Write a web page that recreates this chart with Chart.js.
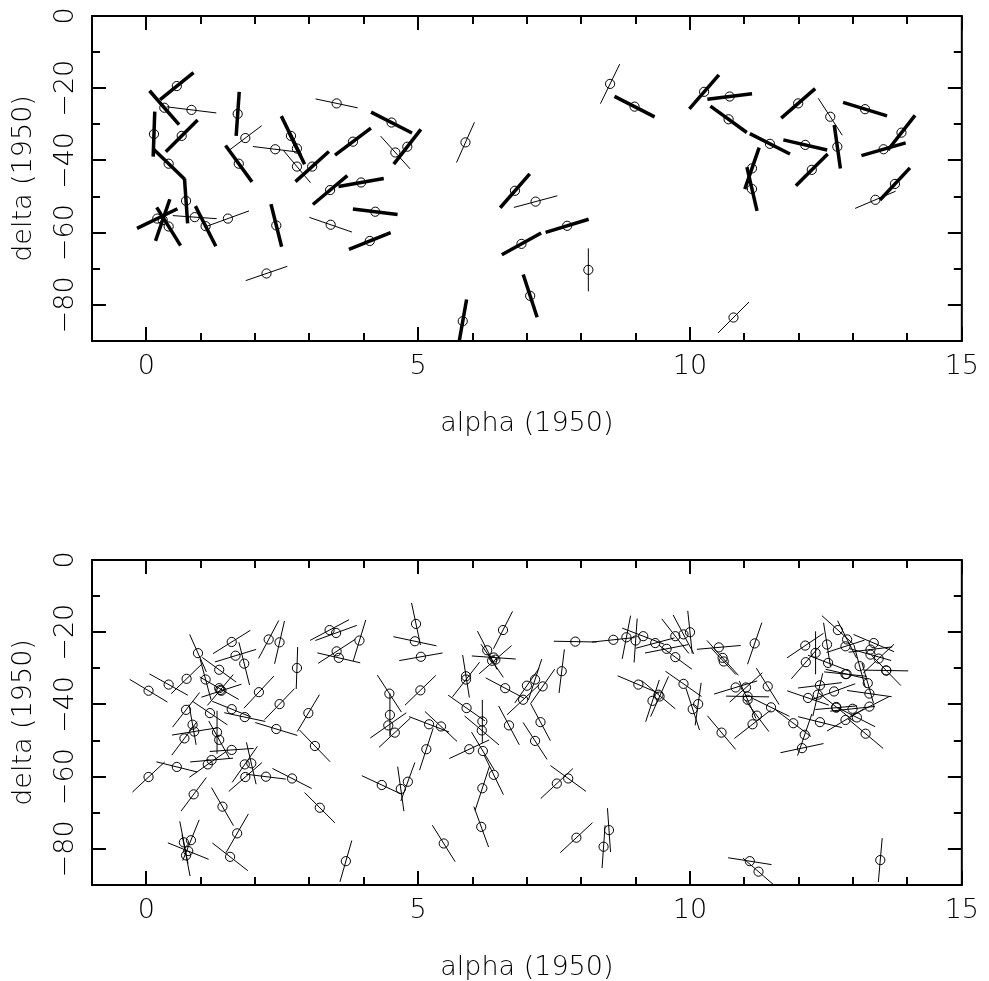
<!DOCTYPE html>
<html>
<head>
<meta charset="utf-8">
<title>alpha / delta polarisation vectors</title>
<script src="https://cdn.jsdelivr.net/npm/chart.js@4.4.1/dist/chart.umd.min.js"></script>
<style>
  html, body { margin: 0; padding: 0; background: #fff; overflow: hidden; }
  canvas { position: absolute; left: 0; }
  #topChart { top: 0; }
  #botChart { top: 544px; }
</style>
</head>
<body>
<canvas id="topChart" width="989" height="544"></canvas>
<canvas id="botChart" width="989" height="544"></canvas>
<script>
// ---- data ----
// angle: degrees from "up", + leans right; pol: vector length (1 unit = VEC_SCALE px)

// top panel
const topAlpha = [0.56,0.33,0.83,1.68,0.14,0.65,1.82,2.37,2.66,2.77,
  2.77,3.05,1.70,0.41,0.73,3.50,3.38,3.95,3.39,2.21,
  2.39,1.50,1.09,0.89,0.20,0.41,0.30,4.51,3.80,4.80,
  4.58,4.21,4.11,5.87,5.82,8.53,8.98,6.78,7.16,6.90,
  7.74,8.13,7.06,10.26,10.73,10.71,11.47,11.99,12.58,13.22,
  12.12,12.71,13.89,13.56,12.24,11.14,11.14,13.77,13.41,10.80];
const topDelta = [-19.4,-25.4,-26.0,-27.1,-32.7,-33.2,-33.8,-36.9,-33.2,-36.7,
  -41.7,-41.7,-40.9,-40.9,-51.2,-24.2,-48.2,-46.1,-57.8,-71.3,
  -58.0,-56.1,-58.2,-55.7,-56.1,-58.3,-56.5,-29.5,-34.8,-36.2,
  -37.8,-54.2,-62.3,-35.0,-84.5,-18.8,-25.1,-48.4,-51.4,-63.1,
  -58.1,-70.3,-77.5,-21.0,-22.3,-28.6,-35.4,-24.2,-27.9,-25.8,
  -35.7,-36.2,-32.3,-36.9,-42.6,-42.2,-47.9,-46.5,-50.9,-83.5];
const topAngle = [51,-41,-83,4,2,45,53,-83,-26,-26,
  -40,48,-36,-46,-4,-78,50,80,-71,71,
  -14,70,-27,-86,64,-32,19,-63,53,38,
  -42,-83,68,24,10,26,-63,41,75,61,
  73,0,-18,41,83,-54,-63,49,-33,-73,
  -77,-8,38,74,45,19,-13,43,67,45];
const topPol = [4.3,4.5,5.0,4.4,4.5,4.5,4.1,4.5,4.4,3.5,
  4.2,4.5,4.5,4.4,4.5,4.3,4.5,4.6,4.5,4.4,
  4.4,4.5,4.5,4.4,4.5,4.5,4.4,4.6,4.5,4.4,
  4.4,4.5,4.5,4.4,4.4,4.4,4.5,4.5,4.5,4.5,
  4.5,4.3,4.5,4.5,4.5,4.5,4.5,4.5,4.4,4.6,
  4.5,4.4,4.4,4.6,4.5,4.4,4.5,4.4,4.4,4.4];
// 1 = bold vector, 0 = thin vector
const topBold = [1,1,0,1,1,1,0,0,1,1,
  0,1,1,1,1,0,1,1,0,0,
  1,0,1,0,1,1,1,1,1,1,
  0,1,1,0,1,0,1,1,0,1,
  1,0,1,1,1,1,1,1,0,1,
  1,1,1,1,1,1,1,1,0,0];

// bottom panel
const botAlpha = [0.04,0.41,0.74,0.95,1.57,1.64,1.80,2.25,2.45,2.77,
  2.45,2.07,1.34,1.09,1.34,1.38,1.36,1.57,1.81,2.39,
  0.73,1.17,0.85,0.88,0.70,1.30,1.34,1.57,1.20,1.13,
  0.56,0.04,1.81,1.93,1.82,2.20,2.68,0.87,2.98,3.10,
  3.37,3.49,3.92,3.50,3.54,4.96,4.94,5.05,4.47,5.04,
  4.48,4.45,4.57,5.20,5.42,5.15,4.33,4.68,4.81,3.19,
  6.56,6.27,6.39,6.42,6.36,5.88,5.88,6.60,5.89,6.18,
  6.17,5.94,6.19,6.39,6.18,6.67,7.15,7.25,6.93,7.00,
  7.15,7.29,7.64,7.89,7.55,7.76,
  8.59,8.83,9.00,9.14,9.36,9.57,9.73,9.88,10.00,9.73,
  10.53,10.60,10.62,11.19,9.05,9.42,9.44,9.31,9.88,10.05,
  10.15,10.58,10.84,11.03,11.06,11.06,11.23,11.15,11.43,11.49,
  11.90,12.11,12.06,12.12,12.31,12.13,12.52,12.54,12.72,12.89,
  12.86,13.38,13.32,13.32,13.47,13.12,12.88,12.86,13.61,13.61,
  13.27,13.30,13.30,12.39,12.65,12.35,12.17,12.69,12.69,12.39,
  12.86,12.99,13.07,13.23,
  1.40,1.67,1.54,0.69,0.82,0.77,0.73,3.67,5.47,6.16,
  7.91,8.51,8.41,11.10,11.26,13.50];
const botDelta = [-36.2,-34.5,-32.9,-25.8,-22.7,-26.5,-28.7,-22.0,-22.8,-29.9,
  -39.9,-36.6,-30.4,-33.1,-35.5,-36.2,-36.0,-41.3,-43.5,-46.8,
  -41.5,-42.4,-45.6,-47.5,-49.4,-47.7,-49.8,-52.6,-55.4,-56.6,
  -57.3,-60.1,-56.6,-56.3,-60.1,-60.0,-60.5,-64.9,-42.4,-51.5,
  -19.4,-20.2,-22.3,-25.3,-27.1,-17.7,-22.5,-26.8,-37.0,-36.1,
  -42.9,-45.8,-47.8,-45.5,-46.1,-52.4,-62.3,-63.4,-61.4,-68.6,
  -19.4,-25.0,-27.0,-27.6,-27.9,-32.2,-33.1,-35.5,-41.0,-44.7,
  -47.2,-52.4,-52.9,-59.5,-63.2,-45.8,-50.1,-44.9,-38.7,-34.8,
  -33.1,-35.0,-30.8,-22.6,-61.9,-60.5,
  -22.1,-21.4,-22.3,-21.1,-23.0,-24.6,-21.1,-20.6,-20.0,-26.9,
  -24.2,-27.1,-28.1,-23.1,-34.5,-37.3,-37.8,-39.0,-34.3,-41.3,
  -39.9,-47.8,-35.3,-35.3,-37.8,-38.7,-43.1,-45.5,-35.0,-40.8,
  -45.2,-48.4,-52.1,-23.7,-25.7,-28.3,-23.4,-28.5,-19.4,-22.0,
  -23.9,-23.0,-24.8,-26.2,-27.3,-29.4,-31.6,-31.6,-30.6,-30.6,
  -34.1,-37.0,-40.6,-34.7,-36.4,-37.3,-38.2,-40.7,-40.9,-44.9,
  -44.3,-41.2,-43.6,-48.1,
  -68.3,-75.7,-82.2,-78.2,-77.6,-80.6,-81.8,-83.4,-78.5,-73.9,
  -76.9,-74.8,-79.4,-83.4,-86.3,-83.1];
const botAngle = [-59,-61,46,-24,58,73,-14,28,13,2,
  44,43,-54,-15,-60,72,40,-68,-78,-73,
  38,-56,-10,81,37,0,-29,86,85,55,
  -76,47,35,-13,49,-83,-63,37,31,-44,
  62,70,17,57,-77,-12,-78,80,-33,46,
  0,55,47,-69,-47,18,-65,-8,20,-45,
  27,-27,-86,49,-34,-9,38,-62,-55,0,
  -50,65,-31,-26,18,-28,-33,-28,47,35,
  18,35,7,-89,47,-54,
  84,11,4,-69,75,79,-38,-28,-6,-54,
  85,-42,-43,19,-67,-50,24,18,-55,-18,
  8,-40,73,48,-89,-24,-37,52,-32,-64,
  -53,19,78,56,0,41,-9,-69,-48,-27,
  72,-67,83,-74,47,-15,-77,-84,-89,-44,
  -16,-82,63,83,70,13,-71,-51,85,-76,
  59,84,-63,-50,
  -30,30,-52,-11,22,-68,-11,16,-32,-20,
  47,-4,4,-81,-49,5];
const botPol = [4.4,4.4,4.3,4.1,4.4,4.3,4.4,4.3,4.4,4.2,
  4.3,4.4,4.2,4.2,4.5,4.2,4.0,4.2,4.2,4.4,
  4.4,4.2,4.1,4.5,4.2,4.3,4.3,4.4,4.3,4.5,
  4.2,4.4,4.4,4.3,4.4,4.0,4.4,4.2,4.3,4.4,
  4.4,4.4,4.3,4.4,4.4,4.3,4.4,4.4,4.4,4.3,
  4.3,4.4,4.3,4.3,4.4,4.4,4.4,4.5,4.1,4.3,
  4.2,4.3,4.4,4.3,4.0,4.3,4.4,4.4,4.5,4.3,
  4.5,4.4,4.4,4.4,4.7,4.4,4.4,4.2,4.4,4.2,
  4.3,4.2,4.4,4.3,4.4,4.4,
  4.3,4.4,4.4,4.5,4.0,4.4,4.4,4.4,4.3,4.1,
  4.4,4.7,3.6,4.4,4.5,4.4,4.4,4.4,4.4,4.4,
  4.3,4.4,4.5,4.4,4.3,4.1,4.0,4.6,4.3,4.1,
  4.4,4.4,4.4,4.4,4.3,4.4,4.4,4.3,4.3,4.2,
  4.0,4.4,4.4,4.3,4.2,4.4,4.3,4.3,4.4,4.2,
  4.2,4.5,4.4,4.4,4.5,4.4,4.4,4.5,4.2,4.5,
  4.3,4.5,4.1,4.6,
  4.4,4.5,4.5,4.3,4.4,4.4,4.2,4.3,4.3,4.3,
  4.4,4.4,4.3,4.4,4.1,4.4];

// axes
const xRange = [-1, 15];
const yRange = [-90, 0];
const xTickVals = [-1,0,1,2,3,4,5,6,7,8,9,10,11,12,13,14,15];
const xLabelVals = [0, 5, 10, 15];
const yTickVals = [0,-10,-20,-30,-40,-50,-60,-70,-80,-90];
const yLabelVals = [0, -20, -40, -60, -80];

const VEC_SCALE = 10;
// thin plotter-like lettering; falls back to regular DejaVu Sans
const FONT = '"DejaVu Sans ExtraLight", "DejaVu Sans"';

Chart.defaults.color = '#000';
Chart.defaults.font.family = FONT;
Chart.defaults.font.weight = '200';

function fmt(v) {
  return v < 0 ? '\u2212' + Math.abs(v) : String(v);
}

// polarisation bars drawn around each source, through the chart scales
function vectorPlugin(alpha, delta, angle, pol, bold) {
  return {
    id: 'vectors',
    afterDatasetsDraw(chart) {
      const {ctx, chartArea: a, scales: {x, y}} = chart;
      ctx.save();
      ctx.beginPath();
      ctx.rect(a.left, a.top, a.right - a.left, a.bottom - a.top);
      ctx.clip();
      ctx.strokeStyle = '#000';
      ctx.lineCap = 'butt';
      for (let i = 0; i < alpha.length; i++) {
        const cx = x.getPixelForValue(alpha[i]);
        const cy = y.getPixelForValue(delta[i]);
        const t = angle[i] * Math.PI / 180;
        const h = pol[i] * VEC_SCALE / 2;
        const dx = Math.sin(t) * h, dy = -Math.cos(t) * h;
        ctx.lineWidth = bold && bold[i] ? 3.5 : 1;
        ctx.beginPath();
        ctx.moveTo(cx - dx, cy - dy);
        ctx.lineTo(cx + dx, cy + dy);
        ctx.stroke();
      }
      ctx.restore();
    }
  };
}

// box with inward ticks on all four sides
const framePlugin = {
  id: 'frame',
  afterDraw(chart) {
    const {ctx, chartArea: a, scales: {x, y}} = chart;
    ctx.save();
    ctx.strokeStyle = '#000';
    ctx.lineWidth = 2;
    ctx.strokeRect(a.left, a.top, a.right - a.left, a.bottom - a.top);
    ctx.beginPath();
    xTickVals.forEach(v => {
      const px = Math.round(x.getPixelForValue(v));
      const len = xLabelVals.includes(v) ? 14 : 8;
      ctx.moveTo(px, a.bottom); ctx.lineTo(px, a.bottom - len);
      ctx.moveTo(px, a.top); ctx.lineTo(px, a.top + len);
    });
    yTickVals.forEach(v => {
      const py = Math.round(y.getPixelForValue(v));
      const len = yLabelVals.includes(v) ? 14 : 8;
      ctx.moveTo(a.left, py); ctx.lineTo(a.left + len, py);
      ctx.moveTo(a.right, py); ctx.lineTo(a.right - len, py);
    });
    ctx.stroke();
    ctx.restore();
  }
};

function makeChart(id, alpha, delta, angle, pol, bold) {
  const points = alpha.map((a, i) => ({x: a, y: delta[i]}));
  return new Chart(document.getElementById(id), {
    type: 'scatter',
    data: {
      datasets: [{
        label: 'sources',
        data: points,
        pointStyle: 'circle',
        pointRadius: 4.6,
        pointBorderWidth: 1,
        pointBorderColor: '#000',
        pointBackgroundColor: 'rgba(0,0,0,0)'
      }]
    },
    options: {
      responsive: false,
      animation: false,
      devicePixelRatio: 1,
      events: [],
      layout: {padding: {top: 16, right: 20, bottom: 0, left: 0}},
      plugins: {legend: {display: false}, tooltip: {enabled: false}},
      scales: {
        x: {
          type: 'linear', min: xRange[0], max: xRange[1],
          afterBuildTicks: s => { s.ticks = xLabelVals.map(v => ({value: v})); },
          afterFit: s => { s.height = 203; },
          grid: {display: false, drawTicks: false},
          border: {display: false},
          ticks: {font: {size: 27}, padding: 10, maxRotation: 0, autoSkip: false, callback: v => fmt(v)},
          title: {display: true, text: 'alpha (1950)', font: {size: 27}, padding: {top: 0, bottom: 104}}
        },
        y: {
          type: 'linear', min: yRange[0], max: yRange[1],
          afterBuildTicks: s => { s.ticks = yLabelVals.map(v => ({value: v})); },
          afterFit: s => { s.width = 92; },
          grid: {display: false, drawTicks: false},
          border: {display: false},
          ticks: {font: {size: 27}, padding: -2, minRotation: 90, maxRotation: 90, crossAlign: 'center', autoSkip: false, callback: v => fmt(v)},
          title: {display: true, text: 'delta (1950)', font: {size: 27}, padding: {top: 8, bottom: 0}}
        }
      }
    },
    plugins: [vectorPlugin(alpha, delta, angle, pol, bold), framePlugin]
  });
}

makeChart('topChart', topAlpha, topDelta, topAngle, topPol, topBold);
makeChart('botChart', botAlpha, botDelta, botAngle, botPol, null);
</script>
</body>
</html>
